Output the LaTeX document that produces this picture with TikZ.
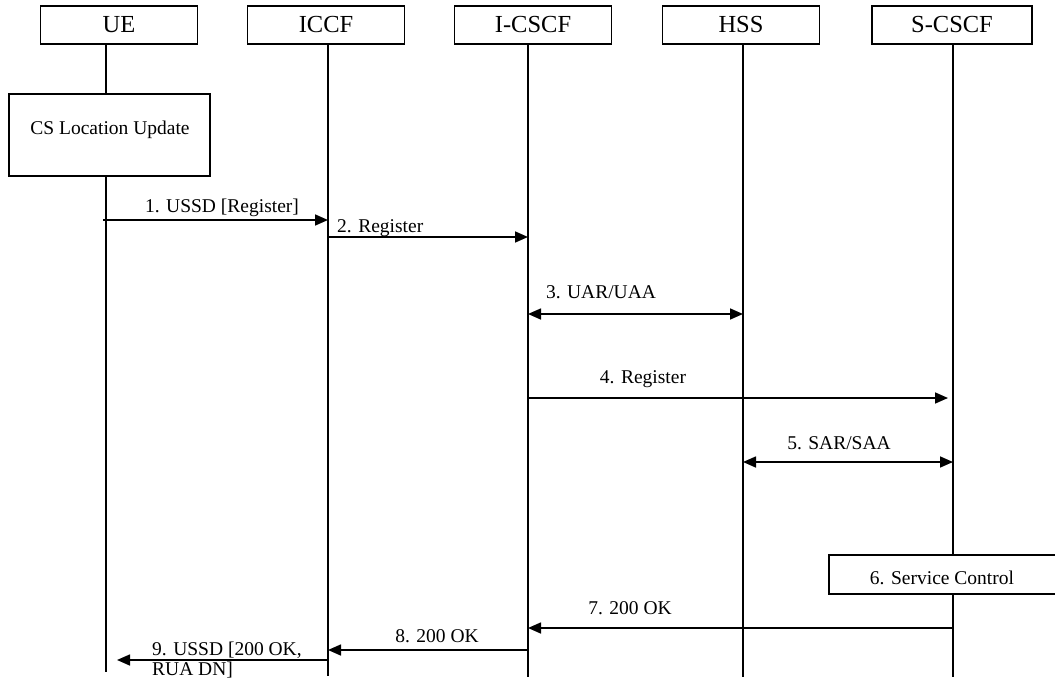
\documentclass[tikz,border=0pt]{standalone}
\usepackage{fontspec}
\setmainfont{Liberation Serif}
\usetikzlibrary{arrows.meta}
\begin{document}
\begin{tikzpicture}[x=1pt,y=-1pt,
  entity/.style={draw, line width=1.2pt, fill=white, minimum width=157pt, minimum height=38pt,
    inner sep=0pt, font=\fontsize{24.5}{28}\selectfont},
  lifeline/.style={line width=1.3pt},
  tip/.tip={Triangle[length=13pt,width=11pt]},
  msg/.style={line width=1.6pt, -tip},
  bimsg/.style={line width=1.6pt, tip-tip},
  lbl/.style={font=\fontsize{19.5}{19.5}\selectfont, inner sep=0pt},
  procbox/.style={draw, line width=1.2pt, fill=white, inner sep=0pt}
]
\useasboundingbox (0,0) rectangle (1055,680);

% participants
\node[entity] (ue) at (119,25) {UE};
\node[entity] (iccf) at (326,25) {ICCF};
\node[entity] (icscf) at (533,25) {I-CSCF};
\node[entity] (hss) at (741,25) {HSS};
\node[entity, minimum width=160pt] (scscf) at (952,25) {S-CSCF};

% lifeline end points
\coordinate (ue-t) at (106,44);    \coordinate (ue-b) at (106,672);
\coordinate (iccf-t) at (328,44);  \coordinate (iccf-b) at (328,676);
\coordinate (icscf-t) at (528,44); \coordinate (icscf-b) at (528,677);
\coordinate (hss-t) at (743,44);   \coordinate (hss-b) at (743,677);
\coordinate (scscf-t) at (953,44); \coordinate (scscf-b) at (953,677);

\foreach \p in {ue,iccf,icscf,hss,scscf}
  \draw[lifeline] (\p-t) -- (\p-b);

% local procedures
\node[procbox, minimum width=201pt, minimum height=82pt] (cslu) at (109.5,135) {};
\node[lbl] (cslu-text) at (110,130) {CS Location Update};
\node[procbox, minimum width=229pt, minimum height=39pt] (svc) at (943.5,574.5) {};
\node[lbl] (svc-text) at (942,578) {6. Service Control};

% message rows
\coordinate (r1) at (0,220);
\coordinate (r2) at (0,237);
\coordinate (r3) at (0,314);
\coordinate (r4) at (0,398);
\coordinate (r5) at (0,462);
\coordinate (r7) at (0,628);
\coordinate (r8) at (0,650);
\coordinate (r9) at (0,660);

\draw[msg, shorten <=-3pt] (ue-t |- r1) -- (iccf-t |- r1);
\node[lbl] (m1) at (222,208) {1. USSD [Register]};

\draw[msg] (iccf-t |- r2) -- (icscf-t |- r2);
\node[lbl, anchor=west] (m2) at (337,228) {2. Register};

\draw[bimsg] (icscf-t |- r3) -- (hss-t |- r3);
\node[lbl] (m3) at (601,292) {3. UAR/UAA};

\draw[msg, shorten >=5pt] (icscf-t |- r4) -- (scscf-t |- r4);
\node[lbl] (m4) at (643,379) {4. Register};

\draw[bimsg] (hss-t |- r5) -- (scscf-t |- r5);
\node[lbl] (m5) at (839,443) {5. SAR/SAA};

\draw[msg] (scscf-t |- r7) -- (icscf-t |- r7);
\node[lbl] (m7) at (630,608) {7. 200 OK};

\draw[msg] (icscf-t |- r8) -- (iccf-t |- r8);
\node[lbl] (m8) at (437,636) {8. 200 OK};

\draw[msg, shorten >=11pt] (iccf-t |- r9) -- (ue-t |- r9);
\node[lbl, anchor=west, align=left] (m9) at (152,660) {9. USSD [200 OK,\\RUA DN]};
\end{tikzpicture}
\end{document}
